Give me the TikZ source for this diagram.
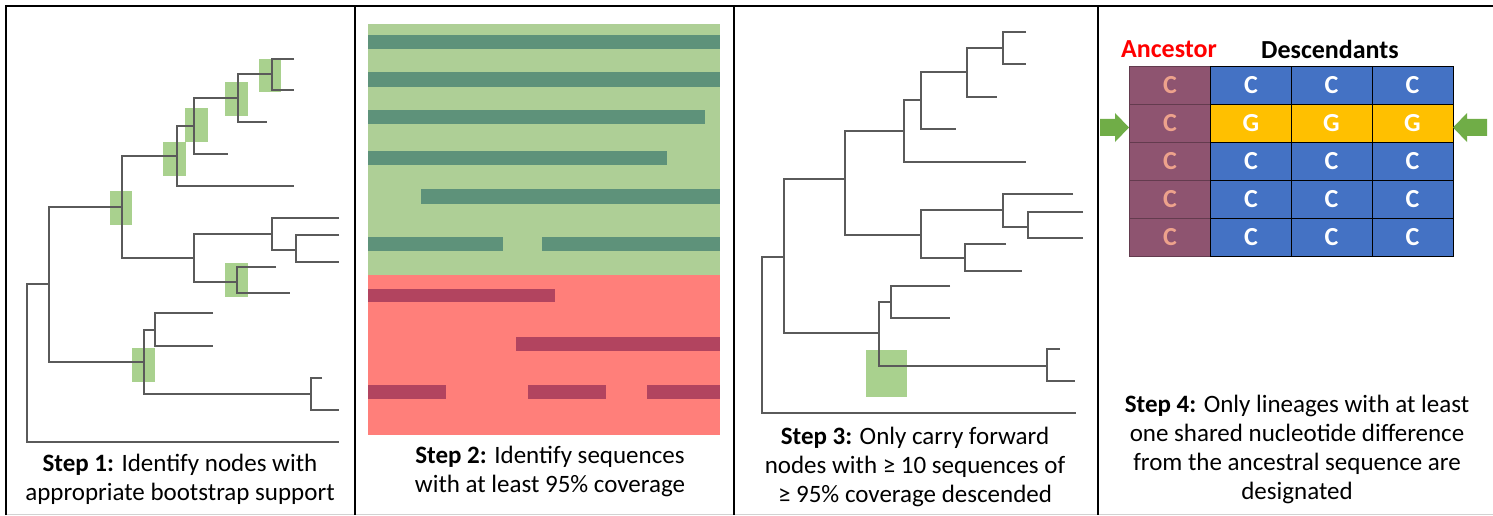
\documentclass[tikz,border=0pt]{standalone}
\usepackage{fontspec}
\setmainfont{Carlito}
\definecolor{treegray}{HTML}{5A5A5A}
\definecolor{boxgreen}{HTML}{A9D18E}
\definecolor{seqbg}{HTML}{AECF96}
\definecolor{seqbar}{HTML}{5E927A}
\definecolor{redbg}{HTML}{FF7F7A}
\definecolor{redbar}{HTML}{B2445F}
\definecolor{anc}{HTML}{8E5470}
\definecolor{anctext}{HTML}{EDA28C}
\definecolor{descblue}{HTML}{4472C4}
\definecolor{descyellow}{HTML}{FFC000}
\definecolor{arrowgreen}{HTML}{70AD47}
\definecolor{ancred}{HTML}{FF0000}
\begin{document}
\begin{tikzpicture}[x=1pt,y=-1pt,
  tree/.style={draw=treegray,line width=1.2pt},
  hl/.style={fill=boxgreen},
  frameline/.style={line width=2pt,black},
  caption/.style={align=center,inner sep=0pt,font=\fontsize{25}{29}\selectfont},
  cell/.style={draw=black,line width=0.8pt,minimum width=81pt,minimum height=38pt,inner sep=0pt,font=\fontsize{26}{28}\selectfont\bfseries},
  ancell/.style={cell,draw=anc!70!black,fill=anc,text=anctext},
  desc/.style={cell,fill=descblue,text=white},
  diff/.style={cell,fill=descyellow,text=white},
  head/.style={inner sep=0pt,font=\fontsize{26}{28}\selectfont\bfseries}]
\useasboundingbox (0,0) rectangle (1493,516);
\fill[white] (0,0) rectangle (1493,516);

% ---------- Panel 1 tree ----------
\fill[hl] (259,59) rectangle (281,92);
\fill[hl] (225,82) rectangle (248,116);
\fill[hl] (185,108) rectangle (208,142);
\fill[hl] (163,142) rectangle (186,176);
\fill[hl] (110,191) rectangle (132,225);
\fill[hl] (225,263) rectangle (248,297);
\fill[hl] (132,348) rectangle (155,382);
\draw[tree] (294,59) -| (272,90) -- (294,90);
\draw[tree] (272,74) -| (238,122) -- (267,122);
\draw[tree] (238,98) -| (194,154) -- (228,154);
\draw[tree] (194,126) -| (177,186) -- (294,186);
\draw[tree] (177,156) -| (122,258) -- (194,258);
\draw[tree] (122,207) -| (49,362) -- (144,362);
\draw[tree] (272,234) -| (194,282) -- (237,282);
\draw[tree] (339,218) -| (272,250) -- (296,250);
\draw[tree] (339,235) -| (296,262) -- (339,262);
\draw[tree] (276,267) -| (237,293) -- (290,293);
\draw[tree] (213,313) -| (155,346) -- (213,346);
\draw[tree] (155,330) -| (144,394) -- (311,394);
\draw[tree] (322,378) -| (311,410) -- (339,410);
\draw[tree] (49,284) -| (27,442) -- (339,442);
\node[caption] (cap1) at (180,479) {\textbf{Step 1:} Identify nodes with\\appropriate bootstrap support};

% ---------- Panel 2 sequences ----------
\fill[seqbg] (368,24) rectangle (720,275);
\fill[redbg] (368,275) rectangle (720,435);
\fill[seqbar] (368,35) rectangle (720,49);
\fill[seqbar] (368,72) rectangle (720,87);
\fill[seqbar] (368,110) rectangle (705,124);
\fill[seqbar] (368,151) rectangle (667,165);
\fill[seqbar] (421,189) rectangle (720,204);
\fill[seqbar] (368,237) rectangle (503,251);
\fill[seqbar] (542,237) rectangle (720,251);
\fill[redbar] (368,289) rectangle (555,302);
\fill[redbar] (516,337) rectangle (720,351);
\fill[redbar] (368,385) rectangle (446,399);
\fill[redbar] (528,385) rectangle (606,399);
\fill[redbar] (647,385) rectangle (720,399);
\node[caption] (cap2) at (550,471) {\textbf{Step 2:} Identify sequences\\with at least 95\% coverage};

% ---------- Panel 3 tree ----------
\fill[hl] (866,350) rectangle (907,397);
\draw[tree] (1026,32) -| (1003,64) -- (1026,64);
\draw[tree] (1003,48) -| (967,97) -- (997,97);
\draw[tree] (967,72) -| (921,129) -- (956,129);
\draw[tree] (921,100) -| (904,162) -- (1026,162);
\draw[tree] (904,131) -| (845,235) -- (921,235);
\draw[tree] (845,179) -| (784,333) -- (879,333);
\draw[tree] (1003,210) -| (921,258) -- (965,258);
\draw[tree] (1073,194) -| (1003,227) -- (1028,227);
\draw[tree] (1083,212) -| (1028,238) -- (1083,238);
\draw[tree] (1006,244) -| (965,271) -- (1022,271);
\draw[tree] (891,302) -| (879,366) -- (1047,366);
\draw[tree] (950,286) -| (891,318) -- (950,318);
\draw[tree] (1060,349) -| (1047,381) -- (1075,381);
\draw[tree] (784,257) -| (762,413) -- (1076,413);
\node[caption] (cap3) at (915,467) {\textbf{Step 3:} Only carry forward\\nodes with ≥ 10 sequences of\\≥ 95\% coverage descended};

% ---------- Panel 4 table ----------
\node[head,text=ancred] (anchead) at (1169,49) {Ancestor};
\node[head] (deschead) at (1330,49) {Descendants};
\foreach \r in {1,...,5}{
  \node[ancell] (a\r) at (1170,{47+38*\r}) {C};
}
\foreach \c/\x in {1/1251,2/1331.5,3/1412.5}{
  \foreach \r in {1,3,4,5}{
    \node[desc] (d\c\r) at (\x,{47+38*\r}) {C};
  }
  \node[diff] (d\c2) at (\x,123) {G};
}
\fill[arrowgreen] (1100,119) -- (1115,119) -- (1115,113) -- (1129,127.5) -- (1115,142) -- (1115,136) -- (1100,136) -- cycle;
\fill[arrowgreen] (1487,119) -- (1467,119) -- (1467,113) -- (1453,127.5) -- (1467,142) -- (1467,136) -- (1487,136) -- cycle;
\node[caption] (cap4) at (1297,449) {\textbf{Step 4:} Only lineages with at least\\one shared nucleotide difference\\from the ancestral sequence are\\designated};

% ---------- Frame ----------
\draw[gray!35,line width=1pt] (6,514) -- (1493,514);
\draw[frameline] (6,515) -- (6,6) -- (1493,6);
\draw[frameline] (355,6) -- (355,515);
\draw[frameline] (734,6) -- (734,515);
\draw[frameline] (1098,6) -- (1098,515);
\end{tikzpicture}
\end{document}
